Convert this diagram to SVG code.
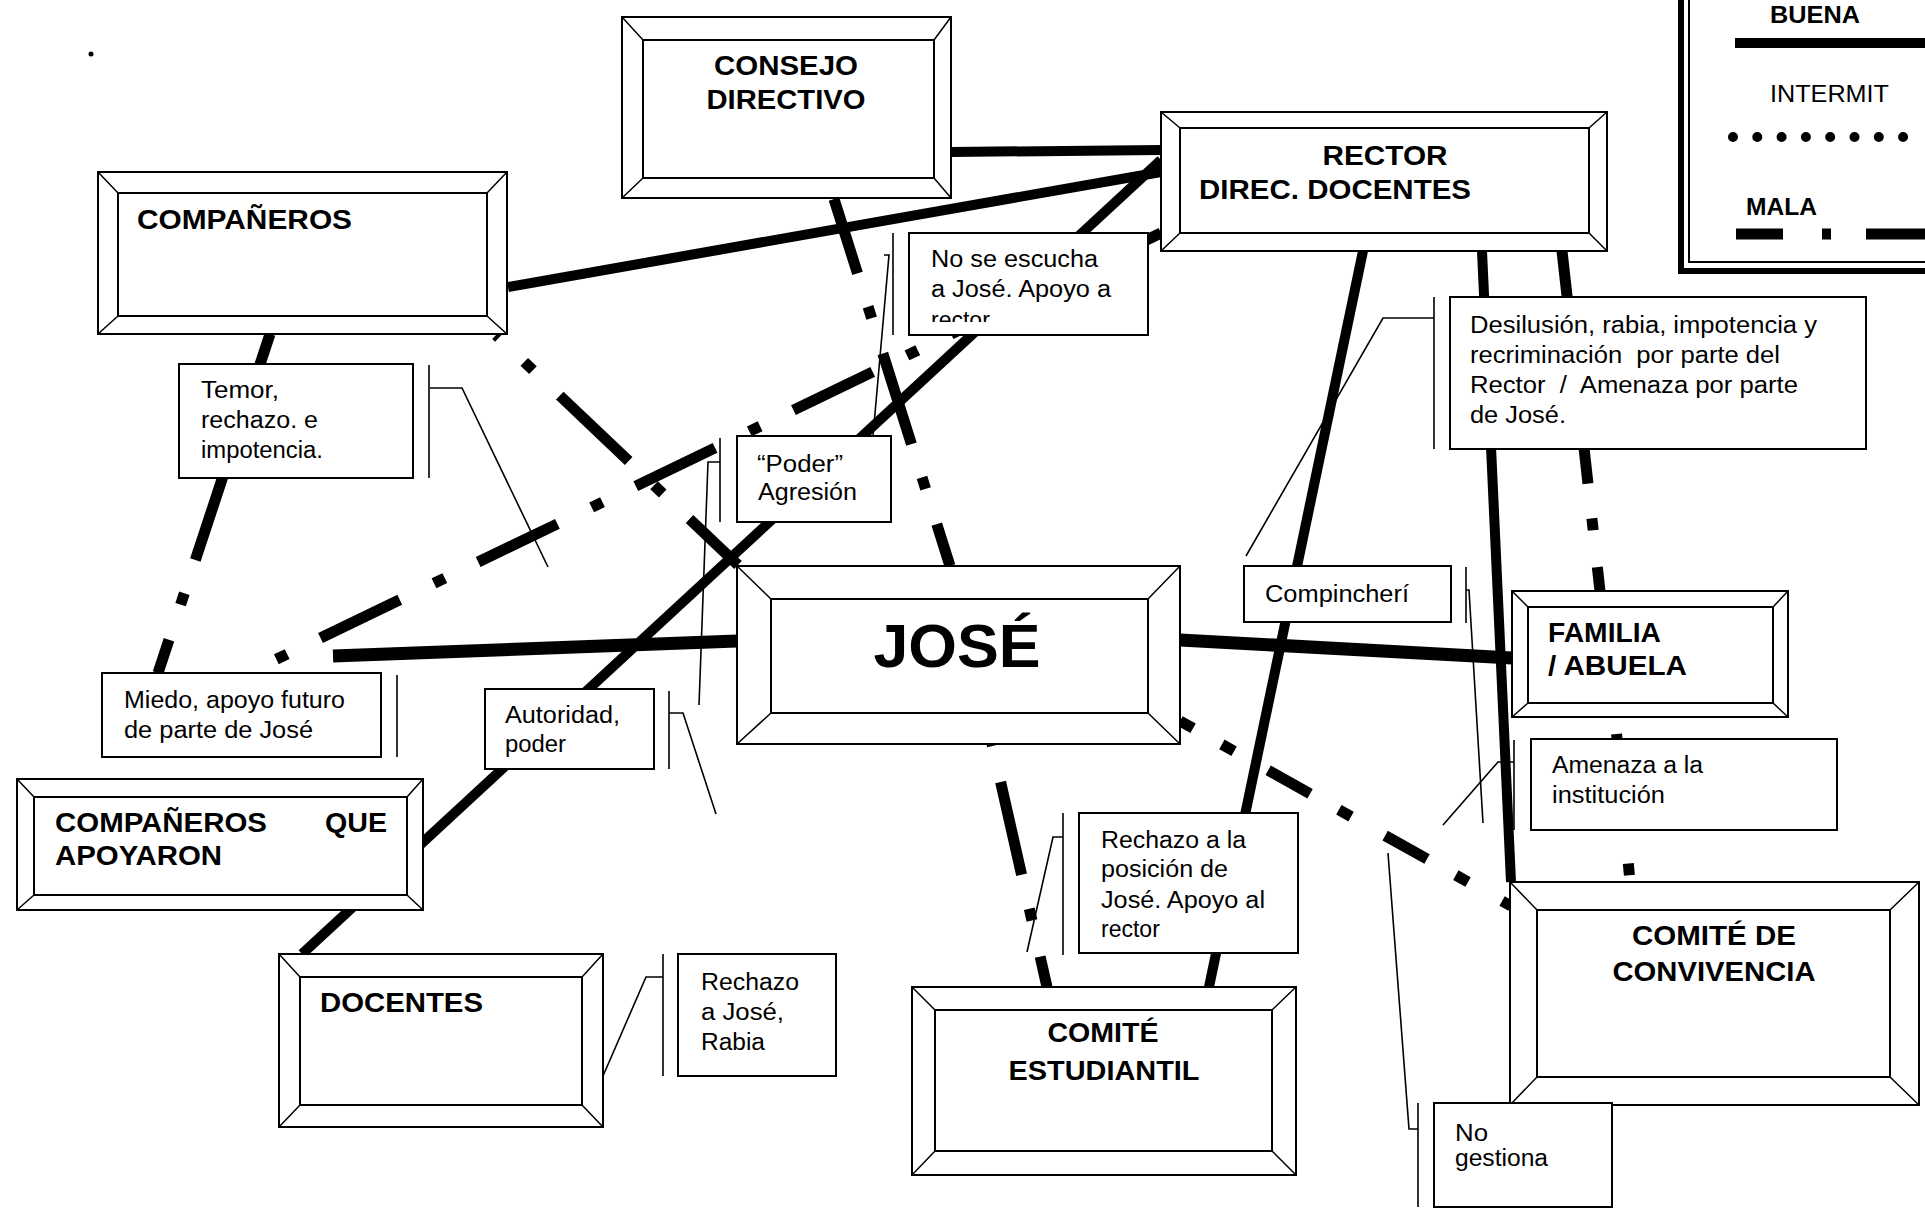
<svg xmlns="http://www.w3.org/2000/svg" width="1925" height="1212" viewBox="0 0 1925 1212">
<defs>
<style>
.bg{fill:#fff}
.node rect{fill:#fff;stroke:#000;stroke-width:2}
.node path{stroke:#000;stroke-width:1.5;fill:none}
.lbl rect{fill:#fff;stroke:#000;stroke-width:2}
.lbl path{stroke:#000;stroke-width:1.6;fill:none}
.nt{font-family:"Liberation Sans",Arial,sans-serif;font-weight:bold;font-size:27px;fill:#000}
.lt{font-family:"Liberation Sans",Arial,sans-serif;font-size:23px;fill:#000}
.buena{stroke:#000;stroke-width:10;fill:none}
.mala{stroke:#000;stroke-width:11;fill:none;stroke-dasharray:95 35 12 37}
</style>
<clipPath id="clipNoSe"><rect x="909" y="233" width="239" height="89"/></clipPath>
</defs>
<rect class="bg" x="0" y="0" width="1925" height="1212"/>
<circle cx="91" cy="54" r="2.5" fill="#000"/>

<g id="connectors">
  <line class="buena" x1="951" y1="152" x2="1161" y2="150"/>
  <line class="buena" x1="508" y1="287" x2="1161" y2="172"/>
  <line class="buena" x1="1161" y1="160" x2="302" y2="954"/>
  <line class="buena" x1="737" y1="641" x2="333" y2="656" style="stroke-width:13"/>
  <line class="buena" x1="1180" y1="640" x2="1512" y2="658" style="stroke-width:13"/>
  <line class="buena" x1="1363" y1="251" x2="1209" y2="987"/>
  <line class="buena" x1="1482" y1="251" x2="1511" y2="882"/>
  <line class="mala" x1="834" y1="199" x2="950" y2="566" style="stroke-dashoffset:17"/>
  <line class="mala" x1="496" y1="335" x2="738" y2="565" style="stroke-dashoffset:91"/>
  <line class="mala" x1="1161" y1="233" x2="250" y2="672" style="stroke-dasharray:88 37 12 38;stroke-dashoffset:30"/>
  <line class="mala" x1="270" y1="334" x2="158" y2="673" style="stroke-dashoffset:36"/>
  <line class="mala" x1="992" y1="744" x2="1047" y2="987" style="stroke-dashoffset:140"/>
  <line class="mala" x1="1180" y1="721" x2="1511" y2="906" style="stroke-dasharray:48 33 14 39;stroke-dashoffset:33"/>
  <line class="mala" x1="1562" y1="251" x2="1600" y2="591" style="stroke-dashoffset:40"/>
  <line class="mala" x1="1615" y1="717" x2="1630" y2="882" style="stroke-dashoffset:162"/>
</g>

<g id="n-consejo" class="node">
  <rect x="622" y="17" width="329" height="181"/>
  <rect x="643" y="40" width="291" height="138"/>
  <path d="M622 17L643 40M951 17L934 40M622 198L643 178M951 198L934 178"/>
  <text class="nt" x="786" y="75" text-anchor="middle" textLength="144" lengthAdjust="spacingAndGlyphs">CONSEJO</text>
  <text class="nt" x="786" y="109" text-anchor="middle" textLength="159" lengthAdjust="spacingAndGlyphs">DIRECTIVO</text>
</g>

<g id="n-companeros" class="node">
  <rect x="98" y="172" width="409" height="162"/>
  <rect x="118" y="193" width="369" height="123"/>
  <path d="M98 172L118 193M507 172L487 193M98 334L118 316M507 334L487 316"/>
  <text class="nt" x="137" y="229" textLength="215" lengthAdjust="spacingAndGlyphs">COMPAÑEROS</text>
</g>

<g id="n-rector" class="node">
  <rect x="1161" y="112" width="446" height="139"/>
  <rect x="1180" y="128" width="409" height="105"/>
  <path d="M1161 112L1180 128M1607 112L1589 128M1161 251L1180 233M1607 251L1589 233"/>
  <text class="nt" x="1385" y="165" text-anchor="middle" textLength="125" lengthAdjust="spacingAndGlyphs">RECTOR</text>
  <text class="nt" x="1199" y="199" textLength="272" lengthAdjust="spacingAndGlyphs">DIREC. DOCENTES</text>
</g>

<g id="n-jose" class="node">
  <rect x="737" y="566" width="443" height="178"/>
  <rect x="771" y="599" width="377" height="114"/>
  <path d="M737 566L771 599M1180 566L1148 599M737 744L771 713M1180 744L1148 713"/>
  <text class="nt" x="957" y="667" text-anchor="middle" style="font-size:62px" textLength="167" lengthAdjust="spacingAndGlyphs">JOSÉ</text>
</g>

<g id="n-familia" class="node">
  <rect x="1512" y="591" width="276" height="126"/>
  <rect x="1528" y="607" width="245" height="96"/>
  <path d="M1512 591L1528 607M1788 591L1773 607M1512 717L1528 703M1788 717L1773 703"/>
  <text class="nt" x="1548" y="642" textLength="113" lengthAdjust="spacingAndGlyphs">FAMILIA</text>
  <text class="nt" x="1548" y="675" textLength="139" lengthAdjust="spacingAndGlyphs">/ ABUELA</text>
</g>

<g id="n-cqa" class="node">
  <rect x="17" y="779" width="406" height="131"/>
  <rect x="34" y="797" width="373" height="98"/>
  <path d="M17 779L34 797M423 779L407 797M17 910L34 895M423 910L407 895"/>
  <text class="nt" x="55" y="832" textLength="212" lengthAdjust="spacingAndGlyphs">COMPAÑEROS</text>
  <text class="nt" x="325" y="832" textLength="62" lengthAdjust="spacingAndGlyphs">QUE</text>
  <text class="nt" x="55" y="865" textLength="167" lengthAdjust="spacingAndGlyphs">APOYARON</text>
</g>

<g id="n-docentes" class="node">
  <rect x="279" y="954" width="324" height="173"/>
  <rect x="300" y="977" width="282" height="128"/>
  <path d="M279 954L300 977M603 954L582 977M279 1127L300 1105M603 1127L582 1105"/>
  <text class="nt" x="320" y="1012" textLength="163" lengthAdjust="spacingAndGlyphs">DOCENTES</text>
</g>

<g id="n-estudiantil" class="node">
  <rect x="912" y="987" width="384" height="188"/>
  <rect x="935" y="1010" width="337" height="141"/>
  <path d="M912 987L935 1010M1296 987L1272 1010M912 1175L935 1151M1296 1175L1272 1151"/>
  <text class="nt" x="1103" y="1042" text-anchor="middle" textLength="111" lengthAdjust="spacingAndGlyphs">COMITÉ</text>
  <text class="nt" x="1104" y="1080" text-anchor="middle" textLength="191" lengthAdjust="spacingAndGlyphs">ESTUDIANTIL</text>
</g>

<g id="n-convivencia" class="node">
  <rect x="1510" y="882" width="409" height="223"/>
  <rect x="1537" y="910" width="353" height="167"/>
  <path d="M1510 882L1537 910M1919 882L1890 910M1510 1105L1537 1077M1919 1105L1890 1077"/>
  <text class="nt" x="1714" y="945" text-anchor="middle" textLength="164" lengthAdjust="spacingAndGlyphs">COMITÉ DE</text>
  <text class="nt" x="1714" y="981" text-anchor="middle" textLength="203" lengthAdjust="spacingAndGlyphs">CONVIVENCIA</text>
</g>

<g id="l-noseescucha" class="lbl">
  <path d="M893 233V335M884 255H889L873 436"/>
  <rect x="909" y="233" width="239" height="102"/>
  <g clip-path="url(#clipNoSe)">
    <text class="lt" x="931" y="267" textLength="167" lengthAdjust="spacingAndGlyphs">No se escucha</text>
    <text class="lt" x="931" y="297" textLength="180" lengthAdjust="spacingAndGlyphs">a José. Apoyo a</text>
    <text class="lt" x="931" y="328">rector</text>
  </g>
</g>

<g id="l-temor" class="lbl">
  <path d="M429 365V478M430 388H462L548 567"/>
  <rect x="179" y="364" width="234" height="114"/>
  <text class="lt" x="201" y="398" textLength="78" lengthAdjust="spacingAndGlyphs">Temor,</text>
  <text class="lt" x="201" y="428" textLength="117" lengthAdjust="spacingAndGlyphs">rechazo. e</text>
  <text class="lt" x="201" y="458" textLength="122" lengthAdjust="spacingAndGlyphs">impotencia.</text>
</g>

<g id="l-poder" class="lbl">
  <path d="M720 438V522M720 462H708L699 705"/>
  <rect x="737" y="436" width="154" height="86"/>
  <text class="lt" x="757" y="472" textLength="86" lengthAdjust="spacingAndGlyphs">“Poder”</text>
  <text class="lt" x="758" y="500" textLength="99" lengthAdjust="spacingAndGlyphs">Agresión</text>
</g>

<g id="l-miedo" class="lbl">
  <path d="M397 675V757"/>
  <rect x="102" y="673" width="279" height="84"/>
  <text class="lt" x="124" y="708" textLength="221" lengthAdjust="spacingAndGlyphs">Miedo, apoyo futuro</text>
  <text class="lt" x="124" y="738" textLength="189" lengthAdjust="spacingAndGlyphs">de parte de José</text>
</g>

<g id="l-autoridad" class="lbl">
  <path d="M669 691V769M669 713H683L716 814"/>
  <rect x="485" y="689" width="169" height="80"/>
  <text class="lt" x="505" y="723" textLength="115" lengthAdjust="spacingAndGlyphs">Autoridad,</text>
  <text class="lt" x="505" y="752" textLength="61" lengthAdjust="spacingAndGlyphs">poder</text>
</g>

<g id="l-rechazojose" class="lbl">
  <path d="M663 954V1076M663 977H646L603 1076"/>
  <rect x="678" y="954" width="158" height="122"/>
  <text class="lt" x="701" y="990" textLength="98" lengthAdjust="spacingAndGlyphs">Rechazo</text>
  <text class="lt" x="701" y="1020" textLength="83" lengthAdjust="spacingAndGlyphs">a José,</text>
  <text class="lt" x="701" y="1050" textLength="64" lengthAdjust="spacingAndGlyphs">Rabia</text>
</g>

<g id="l-desilusion" class="lbl">
  <path d="M1434 297V449M1434 318H1383L1246 556"/>
  <rect x="1450" y="297" width="416" height="152"/>
  <text class="lt" x="1470" y="333" textLength="347" lengthAdjust="spacingAndGlyphs">Desilusión, rabia, impotencia y</text>
  <text class="lt" x="1470" y="363" textLength="310" lengthAdjust="spacingAndGlyphs" xml:space="preserve">recriminación  por parte del</text>
  <text class="lt" x="1470" y="393" textLength="328" lengthAdjust="spacingAndGlyphs" xml:space="preserve">Rector  /  Amenaza por parte</text>
  <text class="lt" x="1470" y="423" textLength="96" lengthAdjust="spacingAndGlyphs">de José.</text>
</g>

<g id="l-compincheri" class="lbl">
  <path d="M1466 567V623M1466 590H1469L1483 823"/>
  <rect x="1244" y="566" width="207" height="56"/>
  <text class="lt" x="1265" y="602" textLength="144" lengthAdjust="spacingAndGlyphs">Compincherí</text>
</g>

<g id="l-amenaza" class="lbl">
  <path d="M1514 740V830M1514 762H1498L1443 825"/>
  <rect x="1531" y="739" width="306" height="91"/>
  <text class="lt" x="1552" y="773" textLength="151" lengthAdjust="spacingAndGlyphs">Amenaza a la</text>
  <text class="lt" x="1552" y="803" textLength="113" lengthAdjust="spacingAndGlyphs">institución</text>
</g>

<g id="l-rechazoposicion" class="lbl">
  <path d="M1063 813V955M1063 837H1053L1027 952"/>
  <rect x="1079" y="813" width="219" height="140"/>
  <text class="lt" x="1101" y="848" textLength="145" lengthAdjust="spacingAndGlyphs">Rechazo a la</text>
  <text class="lt" x="1101" y="877" textLength="127" lengthAdjust="spacingAndGlyphs">posición de</text>
  <text class="lt" x="1101" y="908" textLength="164" lengthAdjust="spacingAndGlyphs">José. Apoyo al</text>
  <text class="lt" x="1101" y="937">rector</text>
</g>

<g id="l-nogestiona" class="lbl">
  <path d="M1418 1103V1207M1418 1129H1409L1388 853"/>
  <rect x="1434" y="1103" width="178" height="104"/>
  <text class="lt" x="1455" y="1141" textLength="33" lengthAdjust="spacingAndGlyphs">No</text>
  <text class="lt" x="1455" y="1166" textLength="93" lengthAdjust="spacingAndGlyphs">gestiona</text>
</g>

<g id="legend">
  <path d="M1681 0V271H1925" stroke="#000" stroke-width="6" fill="none"/>
  <path d="M1689 0V262H1925" stroke="#000" stroke-width="2" fill="none"/>
  <text class="nt" x="1770" y="23" style="font-size:23px" textLength="90" lengthAdjust="spacingAndGlyphs">BUENA</text>
  <line x1="1735" y1="43" x2="1925" y2="43" stroke="#000" stroke-width="10"/>
  <text class="lt" x="1770" y="102" textLength="119" lengthAdjust="spacingAndGlyphs">INTERMIT</text>
  <line x1="1733" y1="137" x2="1925" y2="137" stroke="#000" stroke-width="10" stroke-linecap="round" stroke-dasharray="0 24.3"/>
  <text class="nt" x="1746" y="215" style="font-size:23px" textLength="71" lengthAdjust="spacingAndGlyphs">MALA</text>
  <line x1="1736" y1="234" x2="1925" y2="234" stroke="#000" stroke-width="11" stroke-dasharray="47 39 9 35 60"/>
</g>
</svg>
